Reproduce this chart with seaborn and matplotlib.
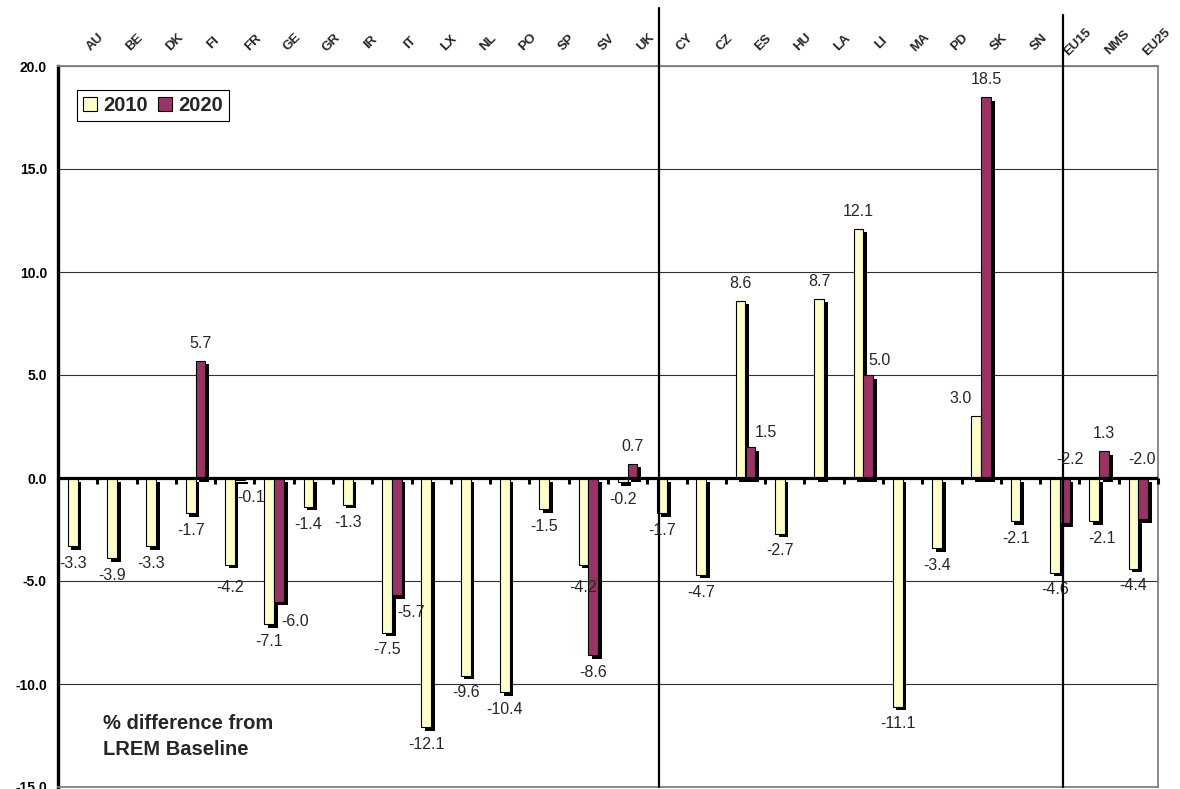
import numpy as np
import pandas as pd
import matplotlib
matplotlib.use("Agg")
import matplotlib.pyplot as plt
import matplotlib.patheffects as pe
from matplotlib.patches import Patch
from matplotlib.transforms import ScaledTranslation
import seaborn as sns

# Country codes: EU15 members, new member states, then aggregates
countries = ["AU", "BE", "DK", "FI", "FR", "GE", "GR", "IR", "IT", "LX", "NL", "PO", "SP", "SV", "UK",
             "CY", "CZ", "ES", "HU", "LA", "LI", "MA", "PD", "SK", "SN",
             "EU15", "NMS", "EU25"]
group_sizes = [15, 10, 3]
years = ["2010", "2020"]

# % difference from LREM baseline (None = no value for that year)
values_2010 = [-3.3, -3.9, -3.3, -1.7, -4.2, -7.1, -1.4, -1.3, -7.5, -12.1, -9.6, -10.4, -1.5, -4.2, -0.2,
               -1.7, -4.7, 8.6, -2.7, 8.7, 12.1, -11.1, -3.4, 3.0, -2.1,
               -4.6, -2.1, -4.4]
values_2020 = [None, None, None, 5.7, -0.1, -6.0, None, None, -5.7, None, None, None, None, -8.6, 0.7,
               None, None, 1.5, None, None, 5.0, None, None, 18.5, None,
               -2.2, 1.3, -2.0]

y_ticks = [-15, -10, -5, 0, 5, 10, 15, 20]

colors = {"2010": "#FFFFCC", "2020": "#993366"}

n = len(countries)
df = pd.DataFrame({
    "country": countries * 2,
    "year": ["2010"] * n + ["2020"] * n,
    "value": [np.nan if v is None else v for v in values_2010 + values_2020],
})

sns.set_style("white")
plt.rcParams["font.family"] = ["Liberation Sans", "DejaVu Sans"]

fig = plt.figure(figsize=(11.8, 7.89), dpi=100)
ax = fig.add_axes([58 / 1180, 2 / 789, 1100 / 1180, 721 / 789])

sns.barplot(data=df.dropna(), x="country", y="value", hue="year",
            order=countries, hue_order=years, palette=[colors[y] for y in years],
            saturation=1, width=0.5, edgecolor="black", linewidth=0.8,
            errorbar=None, legend=False, ax=ax, zorder=2)

# Drop shadow on every bar
for bar in ax.patches:
    bar.set_path_effects([pe.SimplePatchShadow(offset=(2.6, -2.6), shadow_rgbFace="black", alpha=1.0),
                          pe.Normal()])

ax.set_xlim(-0.5, n - 0.5)
ax.set_ylim(min(y_ticks), max(y_ticks))
ax.set_yticks(y_ticks)
ax.yaxis.set_major_formatter(matplotlib.ticker.FormatStrFormatter("%.1f"))
ax.tick_params(axis="y", direction="out", length=4, width=2, labelsize=10, pad=4, colors="black")
for lab in ax.get_yticklabels():
    lab.set_fontweight("bold")

ax.set_axisbelow(True)
ax.yaxis.grid(True, color="#303030", lw=0.8)
ax.xaxis.grid(False)

for side in ["top", "right", "bottom"]:
    ax.spines[side].set_color("#808080")
    ax.spines[side].set_linewidth(1.3)
ax.spines["left"].set_color("black")
ax.spines["left"].set_linewidth(2.4)

# Category axis along zero, with tick marks between categories
ax.axhline(0, color="black", lw=2.3, zorder=3)
bounds = np.arange(n + 1) - 0.5
ax.plot(bounds, np.zeros(n + 1), ls="none", marker=3, ms=4, mew=2.2,
        color="black", clip_on=False, zorder=3)

# Category labels along the top
ax.xaxis.tick_top()
ax.set_xticks(range(n))
ax.set_xticklabels(countries, rotation=45, ha="center", va="center",
                   rotation_mode="anchor", fontweight="bold", fontsize=9.5)
ax.tick_params(axis="x", length=0, pad=17)
shift = ScaledTranslation(13 / 72, 0, fig.dpi_scale_trans)
for lab in ax.get_xticklabels():
    lab.set_transform(lab.get_transform() + shift)
ax.set_xlabel("")
ax.set_ylabel("")

# Separators between country groups
divider_shift = [0.29, 0.57]
divider_top = [1.081, 1.071]
edges = np.cumsum(group_sizes)[:-1] - 0.5
for xe, s, top in zip(edges, divider_shift, divider_top):
    ax.axvline(xe + s, ymin=0, ymax=top, color="black", lw=1.6, clip_on=False, zorder=4)

# Value labels (offsets in points; some moved aside to avoid overlaps)
label_shift = {
    ("FR", "2010"): (0, 4),
    ("SV", "2010"): (0, 4),
    ("FR", "2020"): (8, 0),
    ("GE", "2020"): (11.5, 2),
    ("IT", "2020"): (10, 0),
    ("ES", "2020"): (11, -2),
    ("LI", "2020"): (8, -2),
    ("SK", "2010"): (-11, 0),
    ("NMS", "2010"): (6, 0),
}
at_zero = {("EU15", "2020"): 3.5, ("EU25", "2020"): -1}
series = {"2010": values_2010, "2020": values_2020}
for year, cont in zip(years, ax.containers):
    for bar in cont:
        xc = bar.get_x() + bar.get_width() / 2
        country = countries[int(round(xc))]
        v = series[year][countries.index(country)]
        if v is None:
            continue
        key = (country, year)
        if key in at_zero:
            ax.annotate(f"{v:.1f}", (xc, 0), xytext=(at_zero[key], 13.5), textcoords="offset points",
                        ha="center", va="center", fontsize=11.5, zorder=6)
            continue
        dx, dy = label_shift.get(key, (0, 0))
        sign = 1 if v >= 0 else -1
        ax.annotate(f"{v:.1f}", (xc, v), xytext=(dx, sign * (12.4 + dy)), textcoords="offset points",
                    ha="center", va="center", fontsize=11.5, zorder=6)

handles = [Patch(facecolor=colors[y], edgecolor="black", lw=0.8, label=y) for y in years]
leg = ax.legend(handles=handles, ncol=2, loc="upper left", bbox_to_anchor=(0.0173, 0.9667),
                frameon=True, fancybox=False, edgecolor="black", framealpha=1,
                prop={"weight": "bold", "size": 14.5}, handlelength=0.7, handleheight=0.7,
                handletextpad=0.3, columnspacing=0.5, borderpad=0.3, borderaxespad=0)
leg.get_frame().set_linewidth(0.8)

ax.text(0.041, 0.101, "% difference from\nLREM Baseline", transform=ax.transAxes,
        fontsize=14.5, fontweight="bold", ha="left", va="top", linespacing=1.45)

fig.savefig("out.png", dpi=100)
